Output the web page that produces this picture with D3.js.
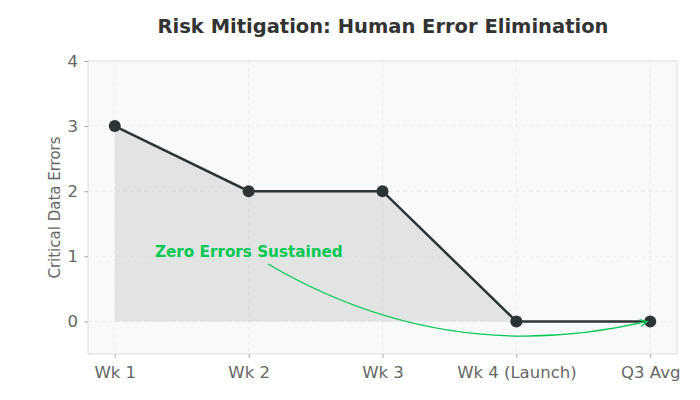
<!DOCTYPE html>
<html><head><meta charset="utf-8">
<script src="https://cdn.jsdelivr.net/npm/d3@7"></script>
<style>body{margin:0;background:#fff}svg{display:block}</style>
</head><body>
<svg id="c" width="700" height="400"></svg>
<script>
const categories = ["Wk 1","Wk 2","Wk 3","Wk 4 (Launch)","Q3 Avg"];
const errors = [3,2,2,0,0];
const yTicks = [0,1,2,3,4];
const titleText = "Risk Mitigation: Human Error Elimination";
const yLabel = "Critical Data Errors";
const annotationText = "Zero Errors Sustained";

const svg = d3.select("#c");
const L=88,R=677,T=61,B=354;
const x = d3.scaleLinear().domain([-0.2,4.2]).range([L,R]);
const y = d3.scaleLinear().domain([-0.5,4]).range([B,T]);
const font = "DejaVu Sans, sans-serif";
const dark = "#2d3436";

svg.append("rect").attr("x",L).attr("y",T).attr("width",R-L).attr("height",B-T)
  .attr("fill","#f9f9f9").attr("stroke","#dddddd").attr("stroke-width",1);

// grid
const g = svg.append("g");
g.selectAll(".gx").data(categories).enter().append("line")
  .attr("x1",(d,i)=>x(i)).attr("x2",(d,i)=>x(i)).attr("y1",T).attr("y2",B)
  .attr("stroke","#ececec").attr("stroke-dasharray","4,3").attr("stroke-width",0.8);
g.selectAll(".gy").data(yTicks).enter().append("line")
  .attr("x1",L).attr("x2",R).attr("y1",d=>y(d)).attr("y2",d=>y(d))
  .attr("stroke","#ececec").attr("stroke-dasharray","4,3").attr("stroke-width",0.8);

// area
const pts = errors.map((v,i)=>[i,v]);
svg.append("path").datum(pts)
  .attr("d", d3.area().x(d=>x(d[0])).y0(y(0)).y1(d=>y(d[1])))
  .attr("fill",dark).attr("fill-opacity",0.11);
svg.append("path").datum(pts)
  .attr("d", d3.line().x(d=>x(d[0])).y(d=>y(d[1])))
  .attr("fill","none").attr("stroke",dark).attr("stroke-width",2.5);
svg.selectAll(".pt").data(pts).enter().append("circle")
  .attr("cx",d=>x(d[0])).attr("cy",d=>y(d[1])).attr("r",6).attr("fill",dark);

// axes
const xAxis = svg.append("g").attr("transform",`translate(0,${B})`)
  .call(d3.axisBottom(x).tickValues(d3.range(categories.length)).tickFormat(i=>categories[i]).tickSize(4).tickPadding(8));
const yAxis = svg.append("g").attr("transform",`translate(${L},0)`)
  .call(d3.axisLeft(y).tickValues(yTicks).tickFormat(d3.format("d")).tickSize(4).tickPadding(6));
[xAxis,yAxis].forEach(a=>{
  a.select(".domain").remove();
  a.selectAll("line").attr("stroke","#aaa");
  a.selectAll("text").attr("fill","#666").style("font-family",font).style("font-size","16.5px");
});

svg.append("text").attr("x",383).attr("y",33).attr("text-anchor","middle")
  .style("font-family",font).attr("font-weight","bold").style("font-size","19.5px").attr("fill","#333")
  .text(titleText);
svg.append("text").attr("transform",`translate(60,${(T+B)/2}) rotate(-90)`).attr("text-anchor","middle")
  .style("font-family",font).style("font-size","15px").attr("fill","#666").text(yLabel);

// annotation
const green = "#00c853";
svg.append("text").attr("x",155).attr("y",257).style("font-family",font).attr("font-weight","bold")
  .style("font-size","15.2px").attr("fill",green).text(annotationText);
const p0=[268,264], p2=[x(4)-3,y(0)];
const dx=p2[0]-p0[0], dy=p2[1]-p0[1], rad=0.2;
const c=[(p0[0]+p2[0])/2 - rad*dy, (p0[1]+p2[1])/2 + rad*dx];
svg.append("path").attr("d",`M${p0[0]},${p0[1]} Q${c[0]},${c[1]} ${p2[0]},${p2[1]}`)
  .attr("fill","none").attr("stroke",green).attr("stroke-width",1.2);
// arrow head
const ang = Math.atan2(p2[1]-c[1], p2[0]-c[0]);
const hl=8, hw=0.45;
const a1=[p2[0]-hl*Math.cos(ang-hw), p2[1]-hl*Math.sin(ang-hw)];
const a2=[p2[0]-hl*Math.cos(ang+hw), p2[1]-hl*Math.sin(ang+hw)];
svg.append("path").attr("d",`M${a1[0]},${a1[1]} L${p2[0]},${p2[1]} L${a2[0]},${a2[1]}`)
  .attr("fill","none").attr("stroke",green).attr("stroke-width",1.2);
</script>
</body></html>
